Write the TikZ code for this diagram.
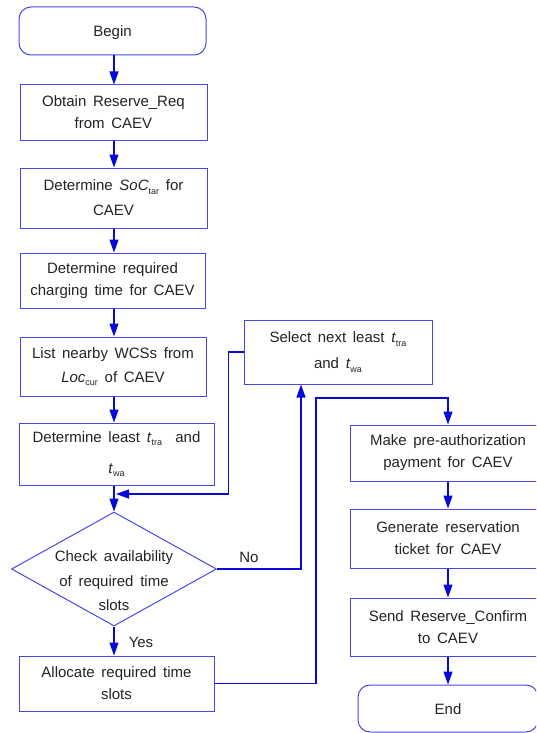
\documentclass[tikz,border=0pt]{standalone}
\usepackage{fontspec}
\setmainfont{Liberation Sans}[WordSpace={1.6,0.3,0.3}]
\usetikzlibrary{shapes.geometric,arrows.meta}
\definecolor{boxc}{RGB}{72,72,232}
\definecolor{arrc}{RGB}{8,8,215}
\definecolor{txtc}{RGB}{35,35,35}
\newcommand\sbs[1]{\raisebox{-3.5pt}{\fontsize{9}{9}\selectfont #1}}
\begin{document}
\begin{tikzpicture}[x=1pt,y=-1pt,
  box/.style={draw=boxc, line width=1pt, text=txtc, align=center,
    font=\fontsize{15}{22}\selectfont, inner sep=0pt},
  rbox/.style={box, rounded corners=12pt, text height=11pt, text depth=0pt},
  lbl/.style={text=txtc, font=\fontsize{15}{22}\selectfont, inner sep=0pt},
  arr/.style={draw=arrc, line width=1.2pt, -{Triangle[length=13pt,width=9pt]}},
  conn/.style={draw=arrc, line width=1.2pt}]
\useasboundingbox (0,0) rectangle (536,733);
\clip (0,0) rectangle (536,733);
% left column
\node[rbox, minimum width=187pt, minimum height=48pt] (begin) at (112.5,31) {Begin};
\node[box, minimum width=187pt, minimum height=55pt] (obtain) at (113.5,112.5) {Obtain Reserve\_Req\\from CAEV};
\node[box, minimum width=187pt, minimum height=60pt] (soc) at (113.5,198) {Determine \textit{SoC}\sbs{tar} for\\[3pt]CAEV};
\node[box, minimum width=185pt, minimum height=55pt] (charge) at (112.5,280.5) {Determine required\\charging time for CAEV};
\node[box, minimum width=186pt, minimum height=59pt] (list) at (113,366.5) {List nearby WCSs from\\[2pt]\textit{Loc}\sbs{cur} of CAEV};
\node[box, minimum width=195pt, minimum height=62pt] (least) at (116.5,454) {Determine least \textit{t}\sbs{tra}\ \ and\\[9pt]\textit{t}\sbs{wa}};
\node[diamond, draw=boxc, line width=1pt, minimum width=205pt, minimum height=114pt, inner sep=0pt] (diam) at (114,569) {};
\node[lbl, align=center, font=\fontsize{15}{24.5}\selectfont] (dtext) at (114,581) {Check availability\\of required time\\slots};
\node[box, minimum width=195pt, minimum height=55pt] (alloc) at (116.5,683.5) {Allocate required time\\slots};
% right column
\node[box, minimum width=188pt, minimum height=64pt] (select) at (338,352) {Select next least \textit{t}\sbs{tra}\\[4pt]and \textit{t}\sbs{wa}};
\node[box, minimum width=196pt, minimum height=56pt] (make) at (448,453) {Make pre-authorization\\payment for CAEV};
\node[box, minimum width=196pt, minimum height=59pt] (gen) at (448,538.5) {Generate reservation\\ticket for CAEV};
\node[box, minimum width=196pt, minimum height=58pt] (send) at (448,627) {Send Reserve\_Confirm\\to CAEV};
\node[rbox, minimum width=180pt, minimum height=47pt] (end) at (448,708.5) {End};
% labels
\node[lbl] (no) at (249,557) {No};
\node[lbl] (yes) at (141,642) {Yes};
% coordinates
\coordinate (merge) at (116,494);
\coordinate (up) at (316,398);
\coordinate (col) at (114,0);
% main flow
\draw[arr] (begin.south -| col) -- (obtain.north -| col);
\draw[arr] (obtain.south -| col) -- (soc.north -| col);
\draw[arr] (soc.south -| col) -- (charge.north -| col);
\draw[arr] (charge.south -| col) -- (list.north -| col);
\draw[arr] (list.south -| col) -- (least.north -| col);
\draw[arr] (least.south -| diam.north) -- (diam.north);
\draw[arr] (diam.south) -- (alloc.north -| diam.south);
% No branch
\draw[arr] (diam.east) -| ([xshift=-37pt]select.south);
\draw[arr] (select.west) -- ++(-15,0) |- (merge);
% Yes continuation
\draw[arr] (alloc.east) -| (up) -| (make.north);
\draw[arr] (make) -- (gen);
\draw[arr] (gen) -- (send);
\draw[arr] (send) -- (end);
\end{tikzpicture}
\end{document}
